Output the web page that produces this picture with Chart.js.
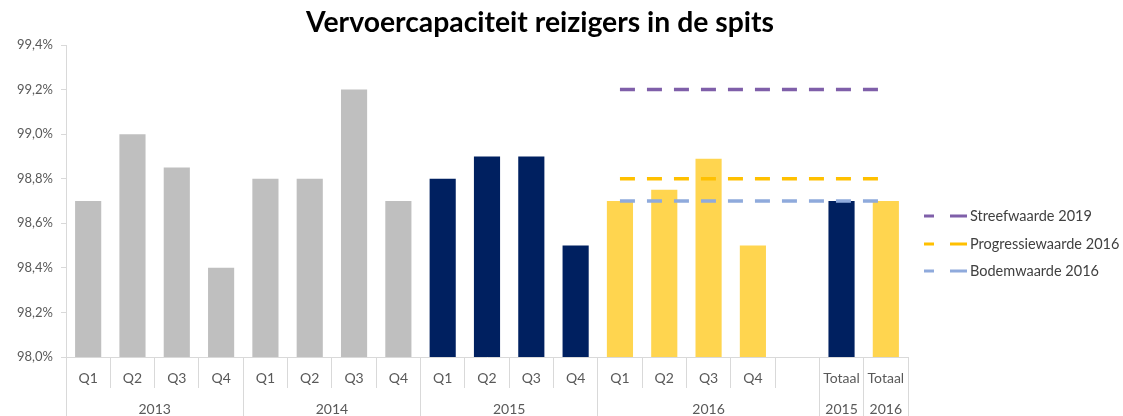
<!DOCTYPE html>
<html>
<head>
<meta charset="utf-8">
<script src="https://cdn.jsdelivr.net/npm/chart.js@4.4.1/dist/chart.umd.min.js"></script>
<style>
html,body{margin:0;padding:0;background:#fff;}
#wrap{position:relative;width:1123px;height:416px;}
</style>
</head>
<body>
<div id="wrap"><canvas id="c" width="1123" height="416"></canvas></div>
<script>
// ---- data ----
const titleText = 'Vervoercapaciteit reizigers in de spits';
const quarterLabels = ['Q1','Q2','Q3','Q4','Q1','Q2','Q3','Q4','Q1','Q2','Q3','Q4','Q1','Q2','Q3','Q4','','Totaal','Totaal'];
const groupLabels = ['2013','2014','2015','2016','2015','2016'];
const groupCenters = [1.5, 5.5, 9.5, 14, 17, 18];
const groupBounds = [-0.5, 3.5, 7.5, 11.5, 16.5, 17.5, 18.5];
const barValues = [98.70, 99.00, 98.85, 98.40, 98.80, 98.80, 99.20, 98.70, 98.80, 98.90, 98.90, 98.50, 98.70, 98.75, 98.89, 98.50, null, 98.70, 98.70];
const barColors = ['#BFBFBF','#BFBFBF','#BFBFBF','#BFBFBF','#BFBFBF','#BFBFBF','#BFBFBF','#BFBFBF',
  '#002060','#002060','#002060','#002060','#FFD54F','#FFD54F','#FFD54F','#FFD54F','#FFFFFF','#002060','#FFD54F'];
const streefwaarde2019 = [null,null,null,null,null,null,null,null,null,null,null,null,99.2,99.2,99.2,99.2,99.2,99.2,99.2];
const progressiewaarde2016 = [null,null,null,null,null,null,null,null,null,null,null,null,98.8,98.8,98.8,98.8,98.8,98.8,98.8];
const bodemwaarde2016 = [null,null,null,null,null,null,null,null,null,null,null,null,98.7,98.7,98.7,98.7,98.7,98.7,98.7];
const lineNames = ['Streefwaarde 2019','Progressiewaarde 2016','Bodemwaarde 2016'];
const lineColors = ['#7F5FA9','#FFC000','#8FAADC'];
const yMin = 98.0, yMax = 99.4, yStep = 0.2;

const FONT = 'Lato, "Open Sans", "Liberation Sans", sans-serif';
const AXIS = '#D9D9D9';
const TXT = '#595959';

const titlePlugin = {
  id: 'customTitle',
  afterDraw(chart) {
    const ctx = chart.ctx;
    ctx.save();
    let size = 24;
    ctx.font = 'bold ' + size + 'px ' + FONT;
    const w = ctx.measureText(titleText).width;
    size = size * 468 / w;
    ctx.font = 'bold ' + size.toFixed(2) + 'px ' + FONT;
    ctx.fillStyle = '#000000';
    ctx.textAlign = 'center';
    ctx.textBaseline = 'alphabetic';
    ctx.fillText(titleText, 540, 32);
    ctx.restore();
  }
};

const legendPlugin = {
  id: 'customLegend',
  afterDraw(chart) {
    const ctx = chart.ctx;
    ctx.save();
    const ys = [216, 244, 271];
    chart.data.datasets.forEach((ds, i) => {
      if (ds.type !== 'line') return;
      const k = lineNames.indexOf(ds.label);
      const y = ys[k];
      ctx.strokeStyle = ds.borderColor;
      ctx.lineWidth = 3;
      ctx.setLineDash([]);
      ctx.beginPath();
      ctx.moveTo(924, y); ctx.lineTo(934, y);
      ctx.moveTo(950, y); ctx.lineTo(967, y);
      ctx.stroke();
      ctx.font = '14.5px ' + FONT;
      ctx.fillStyle = '#404040';
      ctx.textAlign = 'left';
      ctx.textBaseline = 'middle';
      ctx.fillText(ds.label, 970, y);
    });
    ctx.restore();
  }
};

const lineSets = [streefwaarde2019, progressiewaarde2016, bodemwaarde2016].map((d, i) => ({
  type: 'line',
  label: lineNames[i],
  data: d,
  borderColor: lineColors[i],
  backgroundColor: lineColors[i],
  borderWidth: 3.5,
  borderDash: [15, 12],
  pointRadius: 0,
  fill: false,
  spanGaps: false,
  order: 1,
  xAxisID: 'x',
  yAxisID: 'y'
}));

new Chart(document.getElementById('c'), {
  data: {
    labels: quarterLabels,
    datasets: [
      {
        type: 'bar',
        label: 'Vervoercapaciteit',
        data: barValues,
        backgroundColor: barColors,
        borderColor: barColors,
        borderWidth: 0,
        categoryPercentage: 1.0,
        barPercentage: 0.59,
        order: 10,
        xAxisID: 'x',
        yAxisID: 'y'
      },
      ...lineSets
    ]
  },
  options: {
    responsive: false,
    animation: false,
    devicePixelRatio: 1,
    layout: { padding: { left: 0, right: 215, top: 45, bottom: 0 } },
    plugins: {
      legend: { display: false },
      title: { display: false },
      tooltip: { enabled: false }
    },
    scales: {
      y: {
        position: 'left',
        min: yMin,
        max: yMax,
        afterBuildTicks(scale) {
          const t = [];
          for (let k = 0; k <= Math.round((yMax - yMin) / yStep); k++) t.push({ value: +(yMin + k * yStep).toFixed(2) });
          scale.ticks = t;
        },
        afterFit(scale) { scale.width = 66; },
        border: { display: true, color: AXIS, width: 1 },
        grid: { display: true, drawOnChartArea: false, drawTicks: true, tickLength: 5, color: AXIS },
        ticks: {
          padding: 8,
          color: TXT,
          font: { family: FONT, size: 13 },
          callback: (v) => Number(v).toFixed(1).replace('.', ',') + '%'
        }
      },
      x: {
        type: 'category',
        position: 'bottom',
        offset: true,
        afterFit(scale) { scale.height = 31; },
        border: { display: true, color: AXIS, width: 1 },
        grid: { display: true, offset: true, drawOnChartArea: false, drawTicks: true, tickLength: 31, color: AXIS },
        ticks: {
          autoSkip: false,
          maxRotation: 0,
          padding: -18,
          color: TXT,
          font: { family: FONT, size: 14 }
        }
      },
      x2: {
        type: 'linear',
        position: 'bottom',
        min: -0.5,
        max: 18.5,
        offset: false,
        afterBuildTicks(scale) {
          const t = groupBounds.map(v => ({ value: v })).concat(groupCenters.map(v => ({ value: v })));
          t.sort((a, b) => a.value - b.value);
          scale.ticks = t;
        },
        afterFit(scale) { scale.height = 28; },
        border: { display: false },
        grid: {
          display: true,
          drawOnChartArea: false,
          drawTicks: true,
          tickLength: 28,
          color: (c) => (c.tick && groupBounds.includes(c.tick.value)) ? AXIS : 'rgba(0,0,0,0)'
        },
        ticks: {
          autoSkip: false,
          maxRotation: 0,
          padding: -15,
          color: TXT,
          font: { family: FONT, size: 14 },
          callback: (v) => {
            const i = groupCenters.indexOf(v);
            return i >= 0 ? groupLabels[i] : '';
          }
        }
      }
    }
  },
  plugins: [titlePlugin, legendPlugin]
});
</script>
</body>
</html>
